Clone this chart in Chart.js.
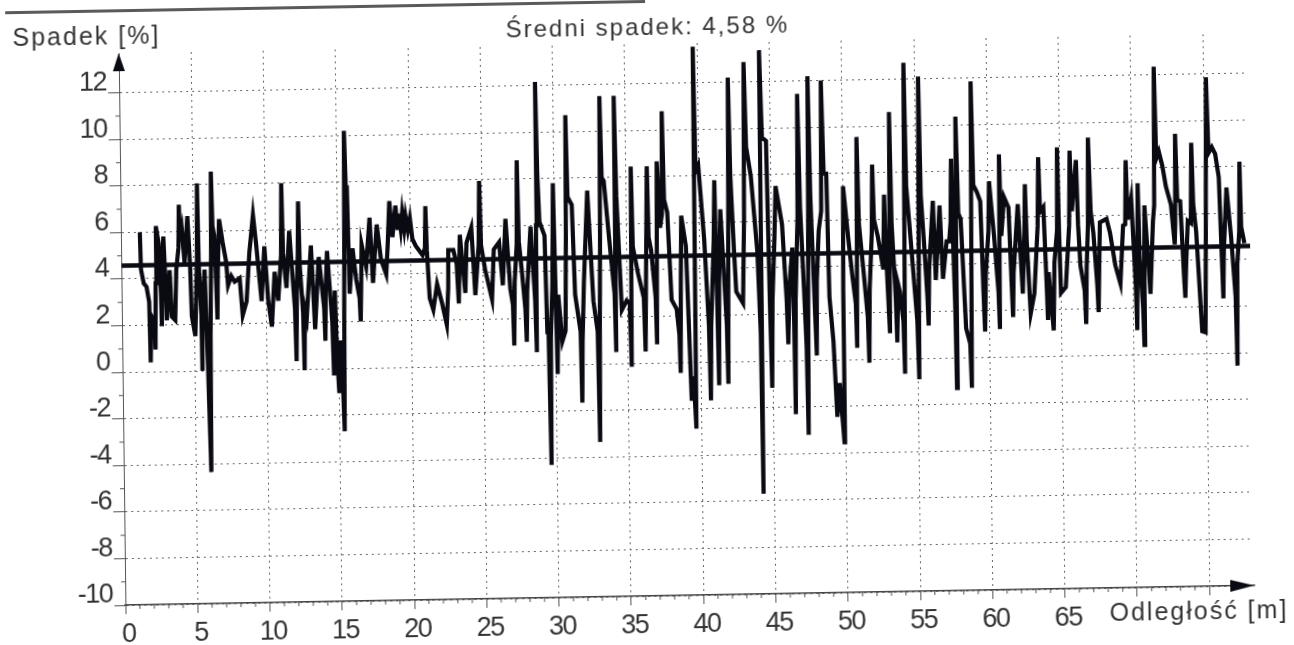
<!DOCTYPE html>
<html lang="pl"><head><meta charset="utf-8">
<script src="https://cdn.jsdelivr.net/npm/chart.js@4"></script>
<style>
html,body{margin:0;padding:0;background:#fff;width:1294px;height:645px;overflow:hidden}
#wrap{position:absolute;left:0;top:0;width:1294px;height:645px;transform:translateX(1px) rotate(-1deg) skewX(-0.3deg);transform-origin:647px 322.5px}
#edge{position:absolute;left:8px;top:0;width:640px;height:3px;background:#5a5a5a}
canvas{display:block}
</style></head><body>
<div id="wrap"><div id="edge"></div><canvas id="c" width="1294" height="645"></canvas></div>
<script>
const titleText = "Średni spadek: 4,58 %";
const yName = "Spadek [%]";
const xName = "Odległość [m]";
const meanValue = 4.58;
const xTickValues = [0,5,10,15,20,25,30,35,40,45,50,55,60,65,70,75];
const xTickLabels = ["0","5","10","15","20","25","30","35","40","45","50","55","60","65","",""];
const yTickValues = [-10,-8,-6,-4,-2,0,2,4,6,8,10,12];
const meanX = [0,78.1];
const samples = [
[1.31,6.0],[1.36,4.4],[1.54,3.8],[1.73,3.65],[1.90,3.0],[1.96,.4],[2.03,2.4],[2.19,2.2],[2.27,2.0],[2.30,.95],[2.36,3.8],[2.42,6.25],[2.60,5.5],[2.72,3.4],[2.76,1.95],[2.82,4.2],[2.93,5.8],[3.06,3.6],[3.11,2.2],[3.34,4.35],[3.46,2.35],[3.69,2.2],[3.80,4.35],[3.97,5.3],[4.03,7.15],[4.10,5.6],[4.22,6.05],[4.38,4.65],[4.61,6.65],[4.76,4.5],[4.84,2.35],[5.07,1.5],[5.24,4.8],[5.30,8.05],[5.36,4.6],[5.50,2.4],[5.53,0],[5.58,2.6],[5.76,4.35],[5.92,.05],[6.06,-4.35],[6.12,1.5],[6.22,5.0],[6.27,8.55],[6.34,6.2],[6.45,5.8],[6.57,3.4],[6.61,2.2],[6.68,4.4],[6.80,6.5],[7.03,5.5],[7.26,4.65],[7.37,3.65],[7.60,4.05],[7.83,3.8],[8.18,3.95],[8.36,2.35],[8.64,2.95],[8.87,5.05],[9.15,6.65],[9.33,5.5],[9.68,2.95],[9.91,5.3],[10.14,2.95],[10.37,1.85],[10.6,4.2],[10.83,2.95],[11.06,4.9],[11.13,8.0],[11.2,5.0],[11.41,3.5],[11.64,5.95],[11.98,2.6],[12.05,.35],[12.12,3.2],[12.22,5.0],[12.28,7.2],[12.35,4.4],[12.54,2.4],[12.6,-.05],[12.66,2.6],[12.79,2.2],[13.13,5.3],[13.36,1.7],[13.66,4.8],[14.0,2.6],[14.06,1.2],[14.12,3.4],[14.24,5.05],[14.55,2.0],[14.63,-.3],[14.75,3.35],[14.85,.6],[14.98,-1.05],[15.08,1.2],[15.2,.2],[15.32,-2.7],[15.38,2.2],[15.44,5.4],[15.51,10.2],[15.6,7.6],[15.67,7.65],[15.78,3.2],[16.01,5.15],[16.24,3.8],[16.46,3.0],[16.52,2.0],[16.58,3.6],[16.64,5.3],[16.94,4.35],[17.21,6.45],[17.4,3.65],[17.7,6.15],[17.97,4.65],[18.32,4.0],[18.45,5.3],[18.59,7.15],[18.78,5.6],[19.01,6.95],[19.15,5.9],[19.24,6.6],[19.36,5.95],[19.47,6.65],[19.6,5.95],[19.7,6.5],[19.85,5.9],[20.0,6.4],[20.16,5.5],[20.39,5.2],[20.85,4.8],[21.02,5.1],[21.08,6.9],[21.15,5.0],[21.31,2.95],
[21.55,2.45],[21.83,3.55],[22.17,2.7],[22.47,1.8],[22.6,3.4],[22.63,5.0],[22.98,5.0],[23.2,4.4],[23.32,2.7],[23.44,5.65],[23.78,3.15],[23.9,5.3],[24.24,5.95],[24.47,3.05],[24.74,5.2],[24.82,7.95],[24.9,5.2],[25.16,4.15],[25.62,2.85],[25.78,5.0],[26.15,5.3],[26.38,3.45],[26.61,6.3],[26.89,3.3],[27.06,2.6],[27.12,.85],[27.2,3.6],[27.37,5.2],[27.44,8.8],[27.52,5.3],[27.69,4.15],[27.92,2.4],[27.99,1.0],[28.06,3.2],[28.34,5.95],[28.6,2.8],[28.68,.55],[28.72,6.0],[28.77,12.15],[28.85,8.2],[28.96,6.15],[29.3,5.55],[29.42,1.4],[29.5,1.4],[29.6,-4.3],[29.66,1.2],[29.8,3.4],[29.86,5.4],[29.92,7.8],[29.99,4.6],[30.1,-.4],[30.2,3.0],[30.45,1.0],[30.68,1.45],[30.78,5.6],[30.84,10.7],[30.92,7.2],[31.21,6.85],[31.37,3.0],[31.72,1.4],[31.78,-1.65],[31.85,1.0],[31.99,3.55],[32.29,7.45],[32.63,2.7],[32.9,1.4],[32.98,-3.35],[33.05,1.4],[33.14,5.4],[33.21,11.5],[33.3,8.0],[33.44,7.85],[33.78,5.3],[34.1,3.0],[34.17,.5],[34.2,11.5],[34.3,7.2],[34.59,2.3],[34.93,2.7],[35.14,2.6],[35.23,-.15],[35.32,8.45],[35.4,5.0],[35.74,3.85],[36.12,2.8],[36.2,.5],[36.28,3.4],[36.43,8.45],[36.5,5.4],[36.66,4.85],[36.94,2.8],[37.0,.8],[37.06,5.0],[37.12,8.65],[37.3,5.8],[37.44,6.4],[37.51,10.8],[37.6,7.0],[37.81,6.45],[38.04,2.7],[38.38,2.3],[38.55,1.2],[38.61,-.45],[38.69,3.4],[38.77,6.3],[39.07,5.0],[39.35,-1.65],[39.5,-.6],[39.65,-2.85],[39.71,13.55],[39.8,8.2],[39.99,8.45],[40.34,5.3],[40.6,1.6],[40.68,-1.65],[40.76,1.6],[41.0,5.2],[41.09,7.8],[41.18,3.2],[41.26,-1.0],[41.34,3.4],[41.48,6.55],[41.84,1.6],[41.9,-.95],[41.98,3.8],[42.04,7.0],[42.11,12.2],[42.2,8.0],[42.4,4.7],[42.52,3.0],[42.98,2.5],[43.12,6.2],[43.21,12.85],[43.32,9.2],[43.62,7.95],[44.01,4.7],[44.18,1.2],[44.24,-5.7],[44.29,13.35],[44.42,9.6],[44.7,9.45],[44.84,2.4],[44.93,-1.15],[45.02,2.6],[45.2,5.2],[45.32,7.5],[45.74,5.85],[46.0,2.6],[46.08,.7],[46.2,3.2],[46.43,4.85],[46.5,1.6],[46.54,-2.3],[46.62,2.6],[46.82,6.2],[46.89,11.45],[47.0,6.6],[47.2,3.2],[47.34,.6],[47.41,-3.2],[47.48,2.2],[47.56,6.6],[47.62,12.2],[47.72,7.0],[48.04,.2],[48.1,3.4],[48.27,5.55],[48.46,6.4],[48.54,12.0],[48.66,8.0],[48.84,8.0],[48.96,2.7],[49.2,.8],[49.41,-2.45],[49.6,-1.0],[49.88,-3.55],[49.92,3.0],[49.99,7.45],[50.34,5.0],[50.57,3.55],[50.78,2.4],[50.84,.5],[50.9,4.8],[50.96,9.55],
[51.06,5.8],[51.33,3.85],[51.6,1.8],[51.67,-.15],[51.75,3.0],[51.94,5.4],[52.02,8.35],[52.1,6.0],[52.36,5.25],[52.71,3.85],[52.82,7.05],[52.92,4.4],[53.12,1.1],[53.17,5.4],[53.23,10.6],[53.32,5.8],[53.55,2.6],[53.62,.7],[53.72,3.2],[53.85,2.85],[54.06,1.6],[54.13,-.65],[54.2,5.8],[54.27,12.7],[54.36,7.4],[54.54,5.85],[55.02,1.6],[55.11,-.9],[55.19,5.8],[55.27,12.1],[55.36,7.0],[55.57,4.7],[55.74,2.6],[55.8,1.4],[55.88,3.8],[56.19,6.75],[56.33,3.35],[56.65,6.55],[56.83,3.4],[57.11,5.0],[57.29,5.0],[57.4,5.8],[57.48,8.55],[57.56,5.0],[57.66,2.0],[57.71,-1.3],[57.76,4.4],[57.82,10.35],[57.94,6.2],[58.1,5.95],[58.39,1.25],[58.66,.6],[58.74,-1.3],[58.82,5.2],[58.9,11.85],[59.0,7.4],[59.24,7.1],[59.47,6.7],[59.62,2.8],[59.7,1.1],[59.8,3.6],[60.01,5.4],[60.09,7.55],[60.39,5.25],[60.66,2.8],[60.73,1.2],[60.8,8.7],[60.9,5.2],[61.12,6.85],[61.42,6.4],[61.58,3.0],[61.65,1.7],[61.72,3.6],[62.06,6.55],[62.34,2.7],[62.5,5.4],[62.57,7.4],[62.65,5.0],[62.87,1.85],[63.14,2.7],[63.42,5.6],[63.51,8.55],[63.6,6.2],[63.83,6.4],[64.0,3.0],[64.06,1.55],[64.14,3.6],[64.45,1.1],[64.55,4.0],[64.76,5.4],[64.82,8.95],[64.9,5.2],[64.98,2.7],[65.32,2.95],[65.6,5.6],[65.69,8.8],[65.8,6.2],[66.12,8.4],[66.22,5.6],[66.35,3.85],[66.62,2.8],[66.7,1.35],[66.78,3.8],[66.9,5.6],[66.97,9.35],[67.1,6.2],[67.27,5.25],[67.5,3.0],[67.57,1.85],[67.64,3.6],[67.73,5.7],[68.19,5.85],[68.42,5.25],[68.76,3.85],[69.1,3.05],[69.33,5.55],[69.48,5.6],[69.56,8.35],[69.66,5.8],[69.91,6.7],[70.16,3.0],[70.23,1.05],[70.3,4.4],[70.37,7.35],[70.45,4.2],[70.65,2.0],[70.71,.4],[70.76,3.6],[70.82,6.4],[71.17,2.6],[71.4,5.7],[71.5,6.4],[71.58,12.35],[71.68,8.4],[71.86,8.7],[72.09,8.1],[72.32,7.2],[72.66,6.4],[72.89,4.7],[72.94,5.6],[73.0,9.45],[73.1,6.6],[73.3,6.55],[73.5,3.4],[73.58,2.4],[73.66,3.8],[73.81,5.7],[74.02,5.6],[74.11,9.05],[74.2,6.4],[74.38,5.25],[74.72,.95],[74.95,.9],[75.05,5.2],[75.18,11.85],[75.3,8.6],[75.53,8.85],[75.76,8.55],[75.99,7.55],[76.14,4.0],[76.21,2.35],[76.28,4.4],[76.51,7.1],[76.79,5.0],[77.06,2.4],[77.13,-.55],[77.2,3.8],[77.36,5.2],[77.43,8.2],[77.5,5.4],[77.71,4.7]
];
const distance = samples.map(s=>s[0]);
const slope = samples.map(s=>s[1]);

const ink = "#0a0a12", gridInk = "#666", textInk = "#333";

const axisExtras = {
  id:"axisExtras",
  beforeDraw(chart){ chart.ctx.letterSpacing = "-1.5px"; },
  afterDraw(chart){
    const {ctx, scales:{x,y}} = chart;
    ctx.save();
    ctx.strokeStyle = "#555"; ctx.lineWidth = 1;
    ctx.beginPath();
    for(let v=y.min; v<=12; v++){ if(yTickValues.includes(v)) continue;
      const p=y.getPixelForValue(v); ctx.moveTo(x.left-4,p); ctx.lineTo(x.left,p); }
    for(let v=0; v<=75; v++){ if(xTickValues.includes(v)) continue;
      const p=x.getPixelForValue(v); ctx.moveTo(p,y.bottom); ctx.lineTo(p,y.bottom+4); }
    ctx.stroke();
    ctx.fillStyle = ink;
    ctx.beginPath();
    ctx.moveTo(x.left,y.top); ctx.lineTo(x.left-6,y.top+18); ctx.lineTo(x.left+6,y.top+18); ctx.closePath(); ctx.fill();
    ctx.beginPath();
    ctx.moveTo(x.right,y.bottom); ctx.lineTo(x.right-24,y.bottom-6); ctx.lineTo(x.right-24,y.bottom+6); ctx.closePath(); ctx.fill();
    ctx.fillStyle = textInk;
    ctx.textBaseline = "middle"; ctx.textAlign = "left";
    ctx.letterSpacing = "2px";
    ctx.font = '25px "Liberation Sans"';
    ctx.fillText(yName, x.left-106, y.top-16);
    ctx.fillText(xName, x.right-145, y.bottom+26);
    ctx.font = '24px "Liberation Sans"';
    ctx.textAlign = "center";
    ctx.fillText(titleText, x.left+529, y.top-16);
    ctx.restore();
  }
};

new Chart(document.getElementById("c"), {
  type:"line",
  data:{datasets:[
    {label:"Spadek", data:distance.map((d,i)=>({x:d,y:slope[i]})), borderColor:ink, borderWidth:4.2, pointRadius:0, tension:0, clip:false, borderJoinStyle:"miter"},
    {label:"Średni spadek", data:meanX.map(d=>({x:d,y:meanValue})), borderColor:ink, borderWidth:4.5, pointRadius:0, tension:0, clip:false}
  ]},
  options:{
    responsive:false, animation:false, devicePixelRatio:1,
    layout:{padding:{left:0,right:44,top:44,bottom:0}},
    plugins:{ legend:{display:false}, tooltip:{enabled:false}, title:{display:false} },
    scales:{
      x:{type:"linear",min:0,max:78.1,
        afterFit(s){s.height=49;},
        afterBuildTicks(s){s.ticks=xTickValues.map(v=>({value:v}));},
        grid:{color:gridInk,lineWidth:1,tickLength:9,tickColor:"#555"},
        border:{display:true,color:"#444",width:1.5,dash:[2,4]},
        ticks:{color:textInk,font:{family:'"Liberation Sans"',size:27},padding:4,labelOffset:3,maxRotation:0,autoSkip:false,
          callback(v){const i=xTickValues.indexOf(v);return i<0?"":xTickLabels[i];}}
      },
      y:{type:"linear",min:-10,max:13.7,
        afterFit(s){s.width=121;},
        afterBuildTicks(s){s.ticks=yTickValues.map(v=>({value:v}));},
        grid:{color:gridInk,lineWidth:1,tickLength:11,tickColor:"#555"},
        border:{display:true,color:"#555",width:1,dash:[2,4]},
        ticks:{color:textInk,font:{family:'"Liberation Sans"',size:27},padding:2,labelOffset:-10,autoSkip:false,
          callback(v){return String(v);}}
      }
    }
  },
  plugins:[axisExtras]
});
</script>
</body></html>
